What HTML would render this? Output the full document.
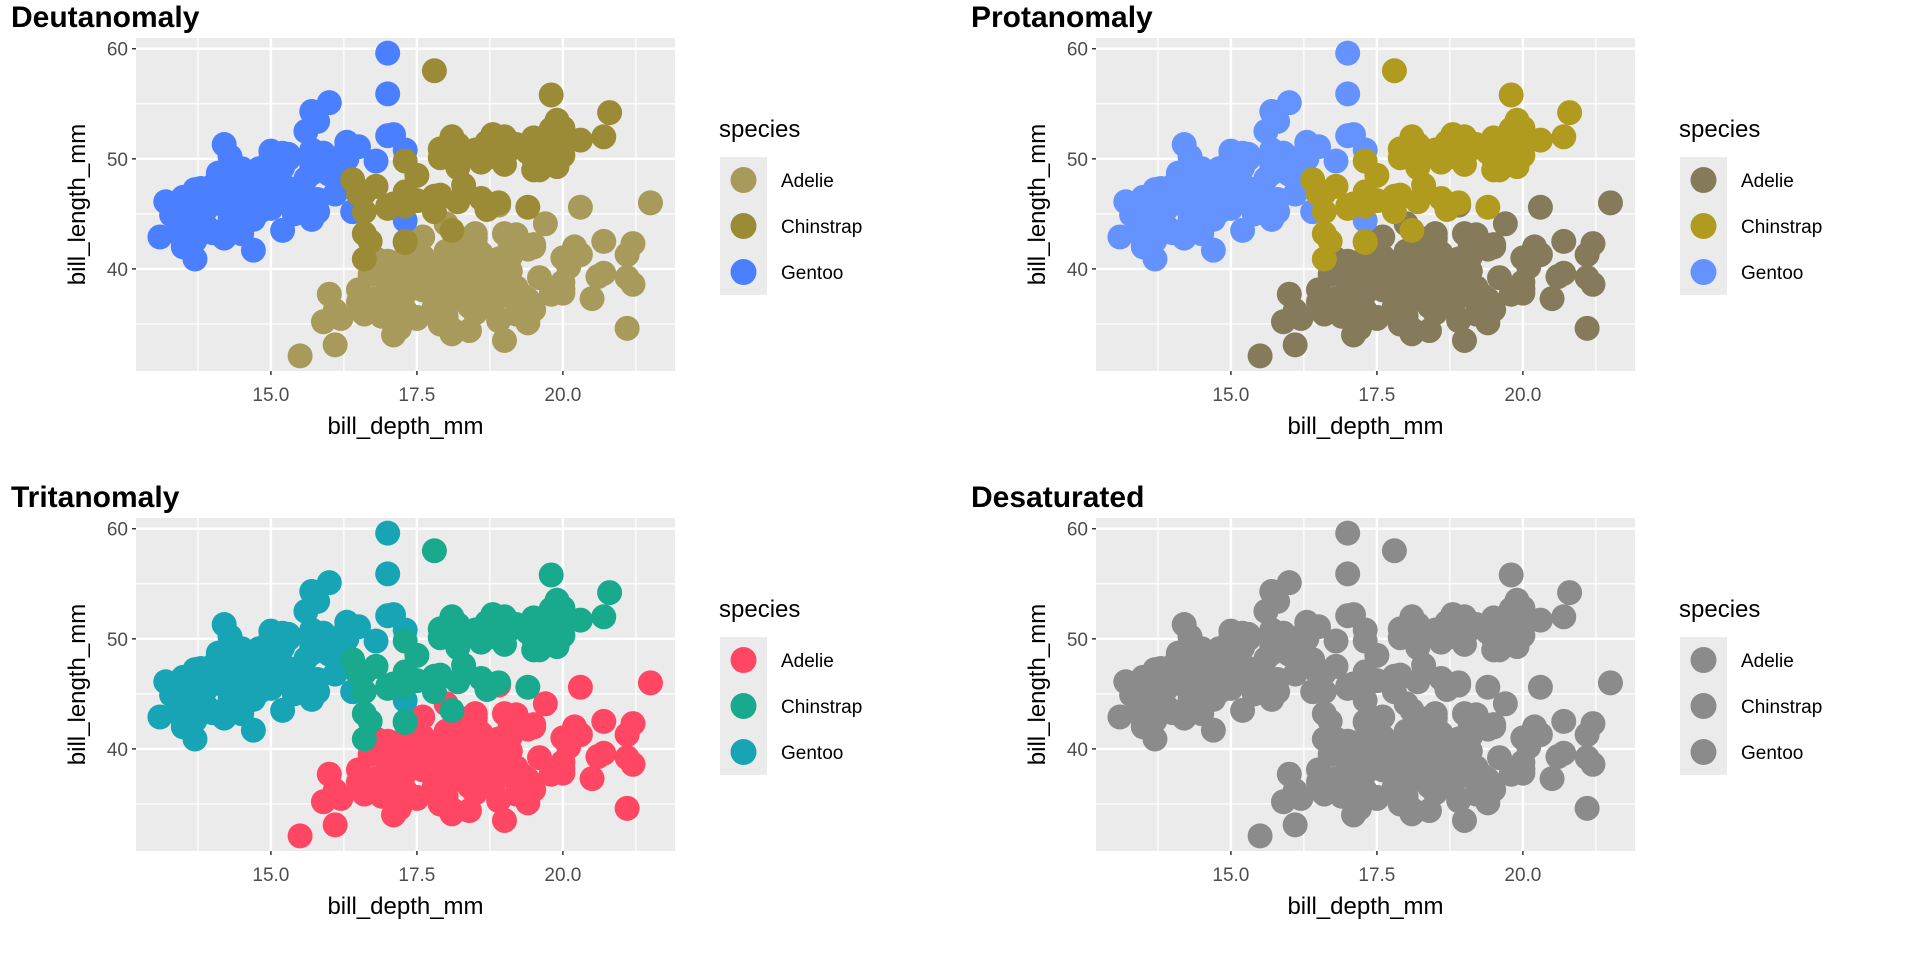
<!DOCTYPE html>
<html><head><meta charset="utf-8"><style>
html,body{margin:0;padding:0;background:#fff;}
svg{display:block;font-family:"Liberation Sans",sans-serif;}
</style></head><body>
<svg id="chart" width="1920" height="960" viewBox="0 0 1920 960" xmlns="http://www.w3.org/2000/svg"></svg>
<script>
const adelieDepth=[18.7,17.4,18.0,19.3,20.6,17.8,19.6,18.1,20.2,17.1,17.3,17.6,21.2,21.1,17.8,19.0,20.7,18.4,21.5,18.3,18.7,19.2,18.1,17.2,18.9,18.6,17.9,18.6,18.9,16.7,18.1,17.8,18.9,17.0,21.1,20.0,18.5,19.3,19.1,18.0,18.4,18.5,19.7,16.9,18.8,19.0,18.9,17.9,21.2,17.7,18.9,17.9,19.5,18.1,18.6,17.5,18.8,16.6,19.1,16.9,21.1,17.0,18.2,17.1,18.0,16.2,19.1,16.6,19.4,19.0,18.4,17.2,18.9,17.5,18.5,16.8,19.4,16.1,19.1,17.2,17.6,18.8,19.4,17.8,20.3,19.5,18.6,19.2,18.8,18.0,18.1,17.1,18.1,17.3,18.9,18.6,18.5,16.1,18.5,17.9,20.0,16.0,20.0,18.6,18.9,17.2,20.0,17.0,19.0,16.5,20.3,17.7,19.5,20.7,18.3,17.0,20.5,17.0,18.6,17.2,19.8,17.0,18.5,15.9,19.0,17.6,18.3,17.1,18.0,17.9,19.2,18.5,18.5,17.6,17.5,17.5,20.1,16.5,17.9,17.1,17.2,15.5,17.0,16.8,18.7,18.6,18.4,17.8,18.1,17.1,18.5];
const adelieLength=[39.1,39.5,40.3,36.7,39.3,38.9,39.2,34.1,42.0,37.8,37.8,41.1,38.6,34.6,36.6,38.7,42.5,34.4,46.0,37.8,37.7,35.9,38.2,38.8,35.3,40.6,40.5,37.9,40.5,39.5,37.2,39.5,40.9,36.4,39.2,38.8,42.2,37.6,39.8,36.5,40.8,36.0,44.1,37.0,39.6,41.1,37.5,36.0,42.3,39.6,40.1,35.0,42.0,34.5,41.4,39.0,40.6,36.5,37.6,35.7,41.3,37.6,41.1,36.4,41.6,35.5,41.1,35.9,41.8,33.5,39.7,39.6,45.8,35.5,42.8,40.9,37.2,36.2,42.1,34.6,42.9,36.7,35.1,37.3,41.3,36.3,36.9,38.3,38.9,35.7,41.1,34.0,39.6,36.2,40.8,38.1,40.3,33.1,43.2,35.0,41.0,37.7,37.8,37.9,39.7,38.6,38.2,38.1,43.2,38.1,45.6,39.7,42.2,39.6,42.7,38.6,37.3,35.7,41.1,36.2,37.7,40.2,41.4,35.2,40.6,38.8,41.5,39.0,44.1,38.5,43.1,36.8,37.5,38.1,41.1,35.6,40.2,37.0,39.7,40.2,40.6,32.1,40.7,37.3,39.0,39.2,36.6,36.0,37.8,36.0,41.5];
const gentooDepth=[13.2,16.3,14.1,15.2,14.5,13.5,14.6,15.3,13.4,15.4,13.7,16.1,13.7,14.6,14.6,15.7,13.5,15.2,14.5,15.1,14.3,14.5,14.5,15.8,13.1,15.1,14.3,15.0,14.3,15.3,15.3,14.2,14.5,17.0,14.8,16.3,13.7,17.3,13.6,15.7,13.7,16.0,13.7,15.0,15.9,13.9,13.9,15.9,13.3,15.8,14.2,14.1,14.4,15.0,14.4,15.4,13.9,15.0,14.5,15.3,13.8,14.9,13.9,15.7,14.2,16.8,14.4,16.2,14.2,15.0,15.0,15.6,15.6,14.8,15.0,16.0,14.2,16.3,13.8,16.4,14.5,15.6,14.6,15.9,13.8,17.3,14.4,14.2,14.0,17.0,15.0,17.1,14.5,16.1,14.7,15.7,15.8,14.6,14.4,16.5,15.0,17.0,15.5,15.0,13.8,16.1,14.7,15.8,14.0,15.1,15.2,15.9,15.2,16.3,14.1,16.0,15.7,16.2,13.7,14.3,15.7,14.8,16.1];
const gentooLength=[46.1,50.0,48.7,50.0,47.6,46.5,45.4,46.7,43.3,46.8,40.9,49.0,45.5,48.4,45.8,49.3,42.0,49.2,46.2,48.7,50.2,45.1,46.5,46.3,42.9,46.1,44.5,47.8,48.2,50.0,47.3,42.8,45.1,59.6,49.1,48.4,42.6,44.4,44.0,48.7,42.7,49.6,45.3,49.6,50.5,43.6,45.5,50.5,44.9,45.2,46.6,48.5,45.1,50.1,46.5,45.0,43.8,45.5,43.2,50.4,45.3,46.2,45.7,54.3,45.8,49.8,46.2,49.5,43.5,50.7,47.7,46.4,48.2,46.5,46.4,48.6,47.5,51.1,45.2,45.2,49.1,52.5,47.4,50.0,44.9,50.8,43.4,51.3,47.5,52.1,47.5,52.2,45.5,49.5,44.5,50.8,49.4,46.9,48.4,51.1,48.5,55.9,47.2,49.1,47.3,46.8,41.7,53.4,43.3,48.1,50.5,49.8,43.5,51.5,46.2,55.1,44.5,48.8,47.2,46.8,50.4,45.2,49.9];
const chinDepth=[17.9,19.5,19.2,18.7,19.8,17.8,18.2,18.2,18.9,19.9,17.8,20.3,17.3,18.1,17.1,19.6,20.0,17.8,18.6,18.2,17.3,17.5,16.6,19.4,17.9,19.0,18.4,19.0,17.8,20.0,16.6,20.8,16.7,18.8,18.6,16.8,18.3,20.7,16.6,19.9,19.5,17.5,19.1,17.0,17.9,18.5,17.9,19.6,18.7,17.3,16.4,19.0,17.3,19.7,17.3,18.8,16.6,19.9,18.8,19.4,19.5,16.5,17.0,19.8,18.1,18.2,19.0,18.7];
const chinLength=[46.5,50.0,51.3,45.4,52.7,45.2,46.1,51.3,46.0,51.3,46.6,51.7,47.0,52.0,45.9,50.5,50.3,58.0,46.4,49.2,42.4,48.5,43.2,50.6,46.7,52.0,50.5,49.5,46.4,52.8,40.9,54.2,42.5,51.0,49.7,47.5,47.6,52.0,46.9,53.5,49.0,46.2,50.9,45.5,50.9,50.8,50.1,49.0,51.5,49.8,48.1,51.4,45.7,50.7,42.5,52.2,45.2,49.3,50.2,45.6,51.9,46.8,45.7,55.8,43.5,49.6,50.8,50.2];
const species=["Adelie","Chinstrap","Gentoo"];
const xTicks=[15.0,17.5,20.0];
const xTickLabels=["15.0","17.5","20.0"];
const yTicks=[40,50,60];
const yTickLabels=["40","50","60"];
const panelTitles=["Deutanomaly","Protanomaly","Tritanomaly","Desaturated"];
const panelColors=[["#A89A5A","#9C8B36","#4A7FFF"],["#857A5A","#B09B1E","#6493FF"],["#FF4662","#19A98C","#17A4B4"],["#8B8B8B","#8B8B8B","#8B8B8B"]];

const NS="http://www.w3.org/2000/svg";
const svg=document.getElementById('chart');
function mk(tag,attrs,parent){const e=document.createElementNS(NS,tag);for(const k in attrs)e.setAttribute(k,attrs[k]);parent.appendChild(e);return e;}
const L=136,R=675,T=38,B=371;
const xMin=12.69,xMax=21.92,yMin=30.725,yMax=60.975;
function sx(v){return L+(v-xMin)/(xMax-xMin)*(R-L);}
function sy(v){return B-(v-yMin)/(yMax-yMin)*(B-T);}

panelTitles.forEach((title,p)=>{
  const ox=(p%2)*960, oy=Math.floor(p/2)*480;
  const g=mk('g',{transform:`translate(${ox},${oy})`},svg);
  
  
  const t=mk('text',{x:11,y:27,'font-size':30,'font-weight':'bold',fill:'#000'},g);
  t.textContent=title;
  
  
  const bg=mk('rect',{x:L,y:T,width:R-L,height:B-T,fill:'#EBEBEB'},g);
  
  
  [35,45,55].forEach(v=>mk('line',{x1:L,x2:R,y1:sy(v),y2:sy(v),stroke:'#fff','stroke-width':1.2},g));
  [13.75,16.25,18.75,21.25].forEach(v=>mk('line',{x1:sx(v),x2:sx(v),y1:T,y2:B,stroke:'#fff','stroke-width':1.2},g));
  yTicks.forEach((v,i)=>{
    mk('line',{x1:L,x2:R,y1:sy(v),y2:sy(v),stroke:'#fff','stroke-width':2.4},g);
    mk('line',{x1:L-4,x2:L,y1:sy(v),y2:sy(v),stroke:'#333','stroke-width':1.5},g);
    const tl=mk('text',{x:L-8,y:sy(v)+7,'font-size':19,fill:'#4D4D4D','text-anchor':'end'},g);
    tl.textContent=yTickLabels[i];
    
    
  });
  xTicks.forEach((v,i)=>{
    mk('line',{x1:sx(v),x2:sx(v),y1:T,y2:B,stroke:'#fff','stroke-width':2.4},g);
    mk('line',{x1:sx(v),x2:sx(v),y1:B,y2:B+4,stroke:'#333','stroke-width':1.5},g);
    const tl=mk('text',{x:sx(v),y:401,'font-size':19,fill:'#4D4D4D','text-anchor':'middle'},g);
    tl.textContent=xTickLabels[i];
    
    
  });
  const cols=panelColors[p];
  const sets=[[adelieDepth,adelieLength,cols[0],'adelie'],[gentooDepth,gentooLength,cols[2],'gentoo'],[chinDepth,chinLength,cols[1],'chinstrap']];
  sets.forEach(([dx,dy,c,nm])=>{
    dx.forEach((d,i)=>{
      const pt=mk('circle',{cx:sx(d),cy:sy(dy[i]),r:12.5,fill:c},g);
      
      
    });
  });
  const xt=mk('text',{x:(L+R)/2,y:434,'font-size':24,fill:'#000','text-anchor':'middle'},g);
  xt.textContent='bill_depth_mm';
  
  
  const yt=mk('text',{x:0,y:0,'font-size':24,fill:'#000','text-anchor':'middle',transform:`translate(85,${(T+B)/2}) rotate(-90)`},g);
  yt.textContent='bill_length_mm';
  
  
  const lt=mk('text',{x:719,y:137,'font-size':24,fill:'#000'},g);
  lt.textContent='species';
  
  
  mk('rect',{x:720,y:157,width:47,height:138,fill:'#EBEBEB'},g);
  species.forEach((s,i)=>{
    const cy=180+i*46;
    const kd=mk('circle',{cx:743.5,cy:cy,r:13,fill:cols[i]},g);
    
    
    const lb=mk('text',{x:781,y:cy+7,'font-size':19,fill:'#000'},g);
    lb.textContent=s;
    
    
  });
});
</script>
</body></html>
